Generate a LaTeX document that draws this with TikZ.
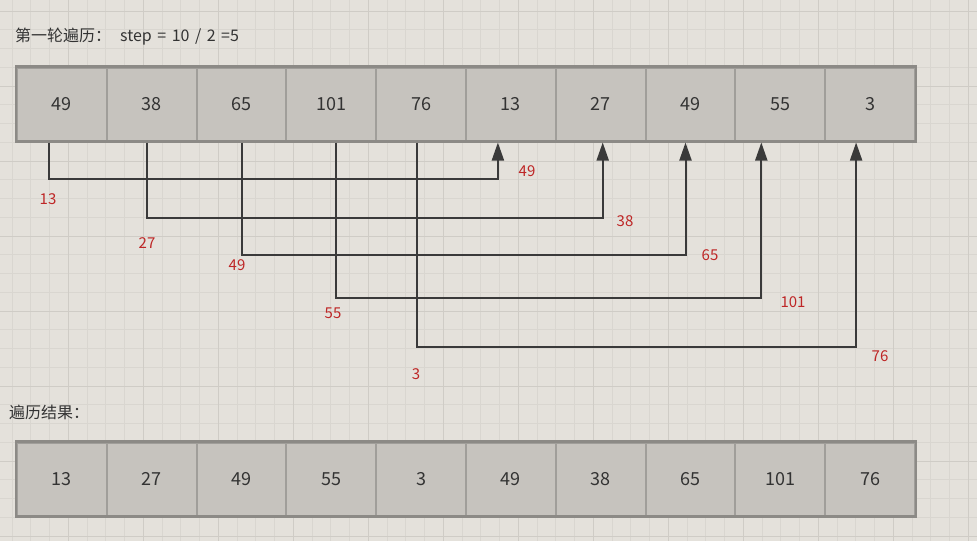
\documentclass[tikz,border=0pt]{standalone}
\usepackage{fontspec}
\setmainfont{Noto Sans CJK SC}
\usetikzlibrary{arrows.meta,calc}
\definecolor{bg}{HTML}{E4E1DB}
\definecolor{gminor}{HTML}{D9D6D0}
\definecolor{gmajor}{HTML}{CFCCC6}
\definecolor{cellfill}{HTML}{C6C3BE}
\definecolor{cellline}{HTML}{A09E9A}
\definecolor{outline}{HTML}{8C8A86}
\definecolor{txt}{HTML}{333333}
\definecolor{conn}{HTML}{3A3A3A}
\definecolor{lbl}{HTML}{BE2626}
\newcommand{\gp}{\hspace{5.5pt}}
\begin{document}
\begin{tikzpicture}[x=1pt,y=-1pt,
  cell/.style={draw=cellline,line width=2pt,fill=cellfill,minimum width=89.8pt,minimum height=73pt,inner sep=0pt,text=txt,font=\fontsize{18}{18}\selectfont},
  connector/.style={draw=conn,line width=2pt,-{Triangle[length=18pt,width=12pt]}},
  redlbl/.style={text=lbl,font=\fontsize{15}{15}\selectfont,inner sep=0pt},
  caption/.style={text=txt,font=\fontsize{16}{16}\selectfont,inner sep=0pt,anchor=west}]
\useasboundingbox (0,0) rectangle (977,541);
\fill[bg] (0,0) rectangle (977,541);
% grid
\foreach \i in {0,...,52} {
  \pgfmathsetmacro\gx{12.05+18.75*\i}
  \draw[gminor,line width=1pt] (\gx,0) -- (\gx,541);
}
\foreach \i in {0,...,29} {
  \pgfmathsetmacro\gy{-7.75+18.75*\i}
  \draw[gminor,line width=1pt] (0,\gy) -- (977,\gy);
}
\foreach \i in {0,...,13} {
  \pgfmathsetmacro\gx{-6.7+75*\i}
  \draw[gmajor,line width=1pt] (\gx,0) -- (\gx,541);
}
\foreach \i in {0,...,7} {
  \pgfmathsetmacro\gy{11+75*\i}
  \draw[gmajor,line width=1pt] (0,\gy) -- (977,\gy);
}
% captions
\node[caption] (title) at (15,37) {第一轮遍历：\hspace{9pt}step\gp=\gp10\gp/\gp2\gp=5};
\node[caption] (res) at (9,412) {遍历结果：};
% top row
\foreach \v [count=\i] in {49,38,65,101,76,13,27,49,55,3} {
  \node[cell] (t\i) at ({17+89.8*(\i-0.5)},104) {\v};
}
\draw[outline,line width=2.2pt] (t1.north west) rectangle (t10.south east);
% bottom row
\foreach \v [count=\i] in {13,27,49,55,3,49,38,65,101,76} {
  \node[cell] (b\i) at ({17+89.8*(\i-0.5)},479) {\v};
}
\draw[outline,line width=2.2pt] (b1.north west) rectangle (b10.south east);
% connector end points
\coordinate (s1) at ($(t1.south)+(-12.5,1)$);
\coordinate (s2) at ($(t2.south)+(-5,1)$);
\coordinate (s3) at ($(t3.south)+(0,1)$);
\coordinate (s4) at ($(t4.south)+(5,1)$);
\coordinate (s5) at ($(t5.south)+(-4,1)$);
\coordinate (e1) at ($(t6.south)+(-13,1)$);
\coordinate (e2) at ($(t7.south)+(2,1)$);
\coordinate (e3) at ($(t8.south)+(-5,1)$);
\coordinate (e4) at ($(t9.south)+(-19,1)$);
\coordinate (e5) at ($(t10.south)+(-14,1)$);
\draw[connector] (s1) -- ++(0,36) -| (e1);
\draw[connector] (s2) -- ++(0,75) -| (e2);
\draw[connector] (s3) -- ++(0,112) -| (e3);
\draw[connector] (s4) -- ++(0,155) -| (e4);
\draw[connector] (s5) -- ++(0,204) -| (e5);
% labels
\node[redlbl] (l1) at (48,199) {13};
\node[redlbl] (l2) at (147,243) {27};
\node[redlbl] (l3) at (237,265) {49};
\node[redlbl] (l4) at (333,313) {55};
\node[redlbl] (l5) at (416,374) {3};
\node[redlbl] (m1) at (527,171) {49};
\node[redlbl] (m2) at (625,221) {38};
\node[redlbl] (m3) at (710,255) {65};
\node[redlbl] (m4) at (793,302) {101};
\node[redlbl] (m5) at (880,356) {76};
\end{tikzpicture}
\end{document}
